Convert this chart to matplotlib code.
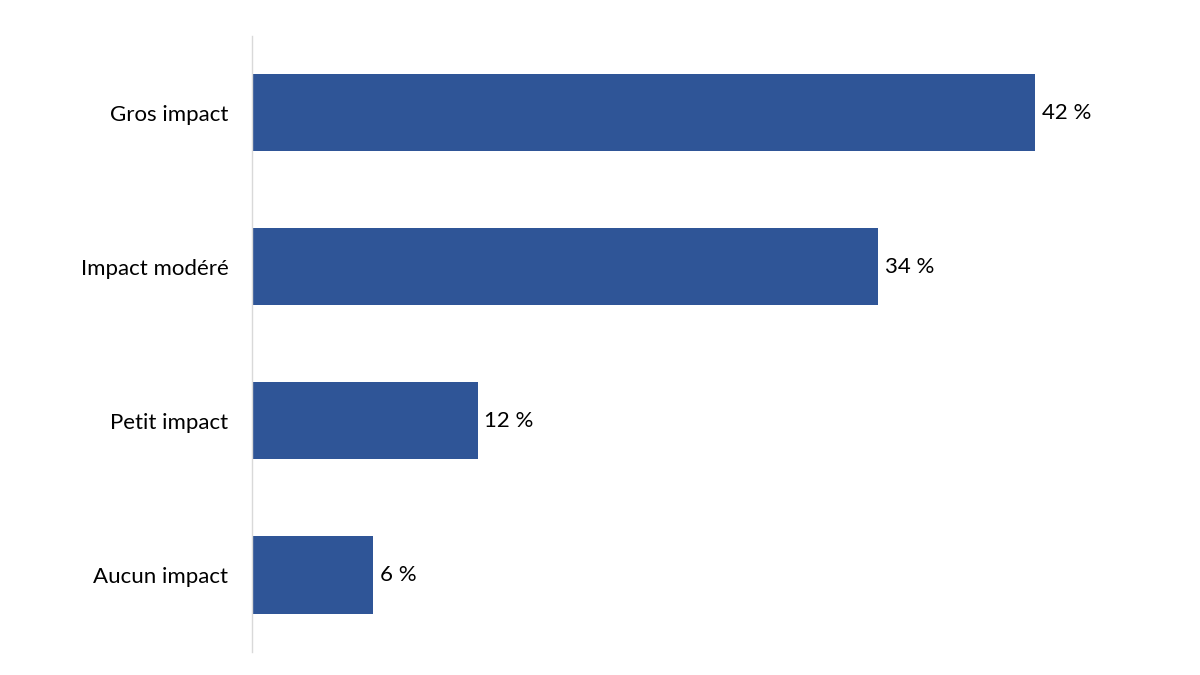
import matplotlib
matplotlib.use("Agg")
import matplotlib.pyplot as plt

categories = ["Gros impact", "Impact modéré", "Petit impact", "Aucun impact"]
values = [42.0, 33.6, 12.1, 6.5]
value_labels = ["42 %", "34 %", "12 %", "6 %"]

BAR_COLOR = "#2F5597"

plt.rcParams["font.family"] = ["Lato", "DejaVu Sans"]

fig = plt.figure(figsize=(12, 6.75), dpi=100)
ax = fig.add_axes([0.2100, 0.034, 0.731, 0.913])

pos = list(range(len(categories)))[::-1]
bars = ax.barh(pos, values, height=0.5, color=BAR_COLOR)

for bar, lab in zip(bars, value_labels):
    ax.text(bar.get_width() + 0.35, bar.get_y() + bar.get_height() / 2, lab,
            va="center", ha="left", fontsize=16, color="black")

ax.set_yticks(pos)
ax.set_yticklabels(categories, fontsize=16)
ax.tick_params(axis="y", length=0, pad=17)
ax.set_xticks([])
ax.set_xlim(0, 47.05)
ax.set_ylim(-0.5, 3.5)

for side in ["top", "right", "bottom"]:
    ax.spines[side].set_visible(False)
ax.spines["left"].set_color("#D9D9D9")
ax.spines["left"].set_linewidth(1)

fig.savefig("out.png", dpi=100)
